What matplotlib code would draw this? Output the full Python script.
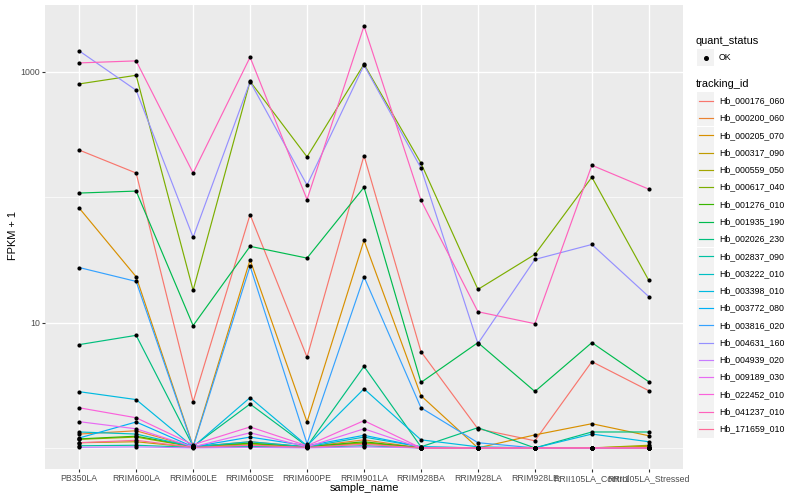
import numpy as np
import matplotlib
matplotlib.use('Agg')
import matplotlib.pyplot as plt
from matplotlib.patches import Rectangle
from matplotlib.lines import Line2D

plt.rcParams['font.family'] = ['Liberation Sans', 'DejaVu Sans']

# samples on the x axis
samples = ['PB350LA', 'RRIM600LA', 'RRIM600LE', 'RRIM600SE', 'RRIM600PE', 'RRIM901LA',
           'RRIM928BA', 'RRIM928LA', 'RRIM928LE', 'RRII105LA_Control', 'RRII105LA_Stressed']

# FPKM + 1 per gene
hb_000176_060 = [238, 156, 2.33, 72.7, 5.3, 215, 5.86, 1.42, 1.14, 4.88, 2.86]
hb_000200_060 = [1.29, 1.37, 1.02, 1.12, 1.02, 1.16, 1.0, 1.0, 1.0, 1.0, 1.0]
hb_000205_070 = [82, 23.2, 1.03, 31.7, 1.61, 45.3, 2.61, 1.0, 1.27, 1.56, 1.25]
hb_000317_090 = [1.1, 1.12, 1.01, 1.06, 1.01, 1.09, 1.0, 1.0, 1.0, 1.0, 1.03]
hb_000559_050 = [1.17, 1.22, 1.02, 1.08, 1.02, 1.1, 1.0, 1.0, 1.0, 1.0, 1.05]
hb_000617_040 = [802, 940, 18.1, 841, 210, 1153, 187, 18.4, 35, 144.5, 21.7]
hb_001276_010 = [1.18, 1.24, 1.03, 1.09, 1.02, 1.12, 1.0, 1.0, 1.0, 1.0, 1.0]
hb_001935_190 = [108, 112, 9.46, 40.6, 32.7, 120, 3.33, 6.92, 2.82, 6.92, 3.37]
hb_002026_230 = [6.67, 7.91, 1.03, 2.24, 1.03, 4.47, 1.02, 1.45, 1.0, 1.34, 1.34]
hb_002837_090 = [1.04, 1.05, 1.01, 1.03, 1.01, 1.04, 1.0, 1.0, 1.0, 1.0, 1.0]
hb_003222_010 = [1.34, 1.29, 1.02, 1.12, 1.02, 1.22, 1.02, 1.0, 1.0, 1.0, 1.0]
hb_003398_010 = [2.81, 2.43, 1.02, 2.52, 1.04, 2.96, 1.16, 1.02, 1.0, 1.29, 1.12]
hb_003772_080 = [1.2, 1.61, 1.02, 1.22, 1.04, 1.26, 1.02, 1.0, 1.0, 1.0, 1.0]
hb_003816_020 = [27.5, 21.3, 1.02, 28.2, 1.08, 23.2, 2.09, 1.1, 1.0, 1.0, 1.0]
hb_004631_160 = [1472, 714, 47.9, 836, 125, 1132, 171, 6.8, 31.9, 42, 16.1]
hb_004939_020 = [1.01, 1.02, 1.0, 1.01, 1.0, 1.02, 1.0, 1.0, 1.0, 1.0, 1.0]
hb_009189_030 = [1.62, 1.42, 1.02, 1.32, 1.02, 1.42, 1.0, 1.0, 1.0, 1.0, 1.0]
hb_022452_010 = [2.09, 1.74, 1.06, 1.47, 1.04, 1.65, 1.0, 1.0, 1.0, 1.0, 1.0]
hb_041237_010 = [1180, 1225, 156, 1311, 95.9, 2321, 94.6, 12.2, 9.8, 180, 116]
hb_171659_010 = [1.1, 1.15, 1.01, 1.05, 1.01, 1.07, 1.0, 1.0, 1.0, 1.0, 1.0]

tracking_ids = ['Hb_000176_060', 'Hb_000200_060', 'Hb_000205_070', 'Hb_000317_090', 'Hb_000559_050',
                'Hb_000617_040', 'Hb_001276_010', 'Hb_001935_190', 'Hb_002026_230', 'Hb_002837_090',
                'Hb_003222_010', 'Hb_003398_010', 'Hb_003772_080', 'Hb_003816_020', 'Hb_004631_160',
                'Hb_004939_020', 'Hb_009189_030', 'Hb_022452_010', 'Hb_041237_010', 'Hb_171659_010']
series = [hb_000176_060, hb_000200_060, hb_000205_070, hb_000317_090, hb_000559_050,
          hb_000617_040, hb_001276_010, hb_001935_190, hb_002026_230, hb_002837_090,
          hb_003222_010, hb_003398_010, hb_003772_080, hb_003816_020, hb_004631_160,
          hb_004939_020, hb_009189_030, hb_022452_010, hb_041237_010, hb_171659_010]

# ggplot hue palette for 20 groups
colors = ['#F8766D', '#EA8331', '#D89000', '#C09B00', '#A3A500', '#7CAE00', '#39B600',
          '#00BB4E', '#00BF7D', '#00C1A3', '#00BFC4', '#00BAE0', '#00B0F6', '#35A2FF',
          '#9590FF', '#C77CFF', '#E76BF3', '#FA62DB', '#FF62BC', '#FF6A98']

W, H = 800, 500
def fx(x):
    return x / W
def fy(y):
    return 1 - y / H

fig = plt.figure(figsize=(8, 5), dpi=100)
ax = fig.add_axes([fx(45), fy(469), 638 / W, 464 / H])
ax.set_facecolor('#EBEBEB')
for s in ax.spines.values():
    s.set_visible(False)

x = np.arange(len(samples))
for vals, c in zip(series, colors):
    ax.plot(x, vals, color=c, lw=0.85, zorder=3)
for vals in series:
    ax.scatter(x, vals, s=9, color='black', zorder=4, linewidths=0)

ax.set_yscale('log')
allv = np.log10(np.concatenate([np.array(v, dtype=float) for v in series]))
lo, hi = allv.min(), allv.max()
pad = 0.05 * (hi - lo)
ax.set_ylim(10 ** (lo - pad), 10 ** (hi + pad))
ax.set_xlim(-0.6, len(samples) - 0.4)

ax.set_yticks([10, 1000])
ax.set_yticklabels(['10', '1000'])
ax.yaxis.set_minor_locator(matplotlib.ticker.FixedLocator([1, 100]))
ax.yaxis.set_minor_formatter(matplotlib.ticker.NullFormatter())
ax.set_xticks(x)
ax.set_xticklabels(samples)
ax.tick_params(axis='both', which='major', color='#333333', length=2.0, width=0.8,
               labelcolor='#4D4D4D', labelsize=6.3, pad=1.6)
ax.tick_params(axis='y', which='minor', length=0)
ax.grid(True, which='major', color='white', lw=1.0, zorder=0)
ax.grid(True, which='minor', axis='y', color='white', lw=0.5, zorder=0)
ax.set_axisbelow(True)

fig.text(fx(364), fy(488), 'sample_name', ha='center', va='center', fontsize=7.9)
fig.text(fx(13), fy(236), 'FPKM + 1', ha='center', va='center', rotation=90, fontsize=7.9)

# legend: quant_status
fig.text(fx(696), fy(41), 'quant_status', ha='left', va='center', fontsize=7.9)
fig.add_artist(Rectangle((fx(697), fy(66)), 17 / W, 17 / H, transform=fig.transFigure,
                         facecolor='#F2F2F2', edgecolor='none'))
fig.add_artist(Line2D([fx(705.5)], [fy(57.5)], marker='o', markersize=2.6, color='black',
                      transform=fig.transFigure))
fig.text(fx(719), fy(57.5), 'OK', ha='left', va='center', fontsize=6.3)

# legend: tracking_id
fig.text(fx(696), fy(84), 'tracking_id', ha='left', va='center', fontsize=7.9)
for i, (name, c) in enumerate(zip(tracking_ids, colors)):
    yc = 100.7 + i * 17.28
    fig.add_artist(Rectangle((fx(697), fy(yc + 8.5)), 17 / W, 17 / H, transform=fig.transFigure,
                             facecolor='#F2F2F2', edgecolor='none'))
    fig.add_artist(Line2D([fx(698.5), fx(712.5)], [fy(yc), fy(yc)], color=c, lw=0.85,
                          transform=fig.transFigure))
    fig.text(fx(719), fy(yc), name, ha='left', va='center', fontsize=6.3)

fig.savefig('out.png', dpi=100, facecolor='white')
